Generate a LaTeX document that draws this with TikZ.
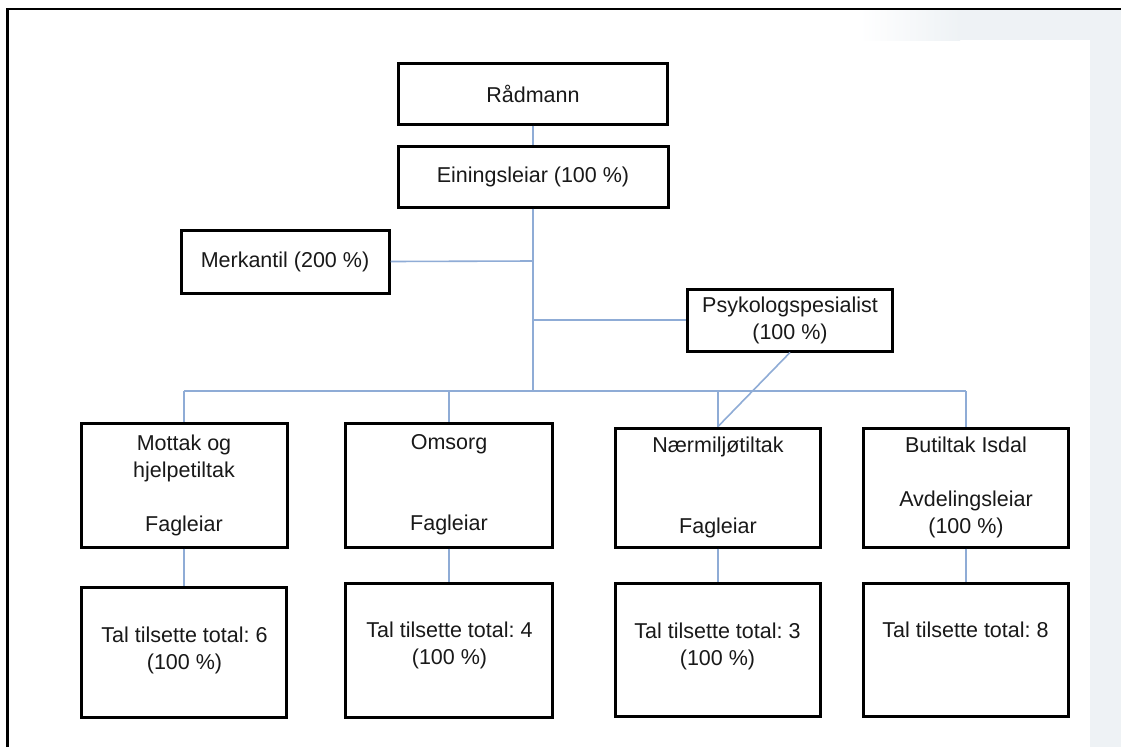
\documentclass[tikz,border=0pt]{standalone}
\usepackage{fontspec}
\setmainfont{Liberation Sans}
\frenchspacing
\definecolor{linkblue}{RGB}{143,172,214}
\definecolor{panelgray}{RGB}{238,242,245}
\definecolor{inkcol}{RGB}{25,25,25}
\begin{document}
\begin{tikzpicture}[x=1pt,y=-1pt,
  box/.style={draw=black,line width=3pt,fill=white,inner sep=0pt,align=center,
    text=inkcol,font=\fontsize{21.5}{27}\selectfont},
  txt/.style={inner sep=0pt,align=center,text=inkcol,font=\fontsize{21.5}{27}\selectfont},
  link/.style={draw=linkblue,line width=1.6pt}]
\useasboundingbox (0,0) rectangle (1121,747);
% page background and side panel
\fill[white] (0,0) rectangle (1121,747);
\fill[panelgray] (1090,40) rectangle (1121,747);
\shade[left color=white,right color=panelgray] (860,10) rectangle (960,40);
\fill[panelgray] (960,10) rectangle (1121,40);
% frame
\draw[black,line width=2.5pt] (7.5,747) -- (7.5,9) -- (1121,9);

% upper levels
\node[box,minimum width=269pt,minimum height=61pt] (rad) at (533,93.5) {Rådmann};
\node[box,minimum width=270pt,minimum height=61pt] (ein) at (533,176.5) {Einingsleiar (100 \%)};
\node[box,minimum width=208pt,minimum height=63pt] (merk) at (285,261.5) {Merkantil (200 \%)};
\node[box,minimum width=205pt,minimum height=62pt] (psy) at (790,320) {Psykologspesialist\\(100 \%)};

% units
\node[box,minimum width=206pt,minimum height=124pt] (mot) at (184,485) {Mottak og\\hjelpetiltak\\\mbox{}\\Fagleiar};
\node[box,minimum width=207pt,minimum height=124pt] (oms) at (449,485) {Omsorg\\\mbox{}\\\mbox{}\\Fagleiar};
\node[box,minimum width=205pt,minimum height=119pt] (nae) at (718,487.5) {Nærmiljøtiltak\\\mbox{}\\\mbox{}\\Fagleiar};
\node[box,minimum width=205pt,minimum height=119pt] (but) at (966,487.5) {Butiltak Isdal\\\mbox{}\\Avdelingsleiar\\(100 \%)};

% staff boxes
\node[box,minimum width=205pt,minimum height=130pt] (mot2) at (184,652) {};
\node[box,minimum width=207pt,minimum height=134pt] (oms2) at (449,650) {};
\node[box,minimum width=205pt,minimum height=133pt] (nae2) at (718,649.5) {};
\node[box,minimum width=205pt,minimum height=133pt] (but2) at (966,649.5) {};
\node[txt] (mot2t) at (184.5,650.5) {Tal tilsette total: 6\\(100 \%)};
\node[txt] (oms2t) at (449.5,645.5) {Tal tilsette total: 4\\(100 \%)};
\node[txt] (nae2t) at (717.5,646) {Tal tilsette total: 3\\(100 \%)};
\node[txt] (but2t) at (965.5,630) {Tal tilsette total: 8};

% junctions on the trunk and the bus
\coordinate (jmerk) at (533,261);
\coordinate (jpsy) at (533,320);
\coordinate (jbus) at (533,391);
\coordinate (bmot) at (184,391);
\coordinate (boms) at (449,391);
\coordinate (bnae) at (718,391);
\coordinate (bbut) at (966,391);

% connectors
\draw[link] (rad.south) -- (ein.north);
\draw[link] (ein.south) -- (jbus);
\draw[link] (merk.east) -- (jmerk);
\draw[link] (jpsy) -- (psy.west);
\draw[link] (bmot) -- (bbut);
\draw[link] (bmot) -- (mot.north);
\draw[link] (boms) -- (oms.north);
\draw[link] (bnae) -- (nae.north);
\draw[link] (bbut) -- (but.north);
\draw[link] (psy.south) -- (nae.north);
\draw[link] (mot.south) -- (mot2.north);
\draw[link] (oms.south) -- (oms2.north);
\draw[link] (nae.south) -- (nae2.north);
\draw[link] (but.south) -- (but2.north);
\end{tikzpicture}
\end{document}
